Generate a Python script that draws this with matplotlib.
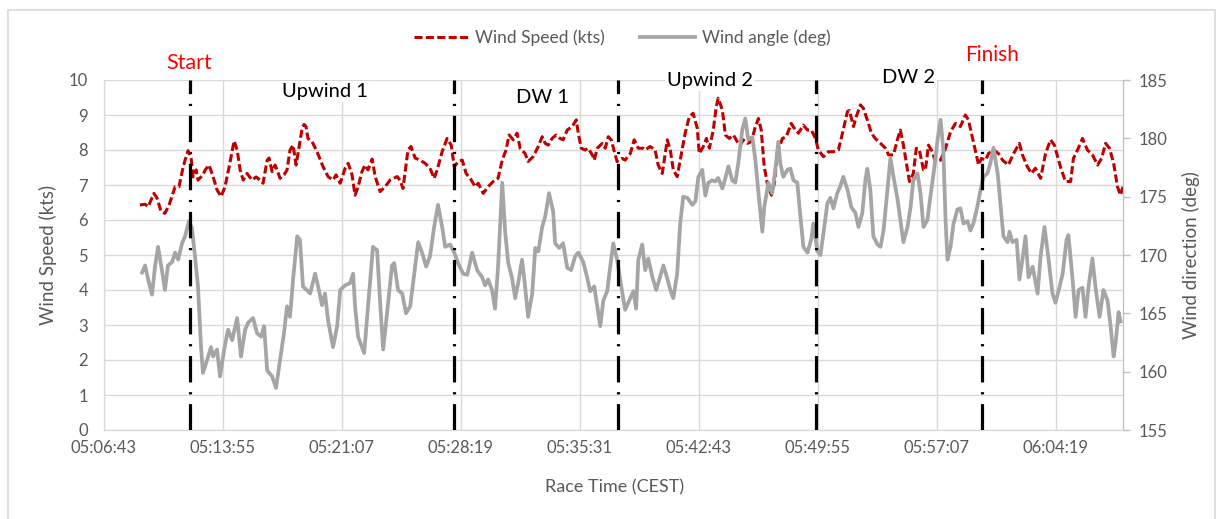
import matplotlib
matplotlib.use("Agg")
import matplotlib.pyplot as plt
from matplotlib.lines import Line2D
from matplotlib.patches import Rectangle
from matplotlib.ticker import FuncFormatter, MultipleLocator

# seconds after 05:06:43 (first tick of the time axis)
T0 = 5 * 3600 + 6 * 60 + 43

ws_t = [132, 151, 162, 183, 194, 209, 223, 238, 260, 274, 289, 296, 307, 318, 325, 336, 343, 361, 369, 383,
        398, 412, 427, 441, 456, 474, 485, 496, 507, 521, 539, 554, 568, 579, 594, 601, 612, 623, 641, 655,
        666, 677, 688, 699, 706, 721, 728, 735, 742, 757, 775, 797, 815, 833, 844, 859, 877, 888, 902, 913,
        924, 938, 949, 960, 975, 986, 1004, 1022, 1040, 1066, 1076, 1087, 1105, 1116, 1131, 1149, 1167, 1185, 1200, 1211,
        1229, 1247, 1262, 1273, 1287, 1302, 1316, 1331, 1349, 1360, 1378, 1396, 1414, 1432, 1447, 1461, 1472, 1487, 1501, 1512,
        1530, 1541, 1559, 1578, 1592, 1603, 1614, 1628, 1643, 1657, 1668, 1683, 1701, 1716, 1723, 1734, 1748, 1759, 1774, 1781,
        1792, 1810, 1821, 1832, 1843, 1854, 1864, 1883, 1893, 1912, 1926, 1941, 1959, 1966, 1984, 2002, 2013, 2028, 2046, 2057,
        2068, 2082, 2093, 2111, 2126, 2140, 2155, 2162, 2177, 2188, 2199, 2213, 2224, 2231, 2246, 2257, 2271, 2286, 2300, 2311,
        2322, 2337, 2351, 2366, 2377, 2387, 2398, 2409, 2424, 2435, 2446, 2464, 2478, 2496, 2507, 2522, 2540, 2555, 2569, 2584,
        2594, 2613, 2631, 2649, 2667, 2682, 2700, 2707, 2722, 2732, 2747, 2758, 2772, 2787, 2801, 2820, 2838, 2849, 2867, 2881,
        2892, 2903, 2918, 2925, 2939, 2950, 2961, 2976, 2983, 2994, 3008, 3019, 3038, 3056, 3074, 3092, 3110, 3128, 3139, 3150,
        3161, 3176, 3186, 3201, 3212, 3230, 3248, 3263, 3284, 3303, 3324, 3335, 3353, 3368, 3382, 3401, 3419, 3437, 3451, 3473,
        3491, 3510, 3520, 3535, 3553, 3571, 3589, 3608, 3622, 3637, 3651, 3666, 3680, 3691, 3700]
ws_kts = [6.43, 6.45, 6.38, 6.76, 6.63, 6.24, 6.19, 6.43, 6.95, 6.95, 7.51, 7.71, 7.98, 7.77, 7.23, 7.43, 7.14, 7.29, 7.43, 7.57,
          7.23, 6.86, 6.67, 6.95, 7.52, 8.26, 8.0, 7.43, 7.14, 7.33, 7.14, 7.23, 7.14, 7.05, 7.71, 7.77, 7.38, 7.57, 7.19, 7.29,
          7.43, 8.0, 8.14, 7.57, 7.9, 8.62, 8.73, 8.67, 8.33, 8.24, 7.95, 7.52, 7.24, 7.14, 7.29, 7.05, 7.48, 7.62, 7.29, 6.71,
          6.95, 7.38, 7.57, 7.43, 7.74, 7.24, 6.81, 6.95, 7.14, 7.24, 7.14, 6.9, 8.0, 8.1, 7.77, 7.71, 7.62, 7.48, 7.19, 7.43,
          7.95, 8.33, 8.14, 7.52, 7.67, 7.71, 7.33, 7.19, 6.95, 7.05, 6.76, 6.95, 7.1, 7.19, 7.71, 8.0, 8.43, 8.29, 8.48, 8.05,
          7.9, 7.67, 7.81, 8.1, 8.38, 8.19, 8.14, 8.33, 8.43, 8.33, 8.29, 8.57, 8.67, 8.86, 8.48, 8.05, 8.0, 8.05, 7.86, 7.71,
          8.05, 8.19, 8.05, 8.38, 8.29, 7.95, 7.67, 7.76, 7.71, 7.9, 8.29, 8.05, 8.05, 8.0, 8.1, 8.0, 7.57, 7.33, 8.29, 8.0,
          7.43, 7.24, 7.71, 8.48, 8.95, 9.05, 8.62, 7.9, 8.1, 8.33, 8.05, 8.57, 9.24, 9.48, 9.14, 8.43, 8.33, 8.43, 8.24, 8.14,
          8.29, 8.19, 8.24, 8.67, 8.9, 8.57, 7.52, 7.05, 6.71, 7.05, 7.95, 8.33, 8.38, 8.76, 8.62, 8.48, 8.71, 8.57, 8.57, 8.33,
          8.0, 7.81, 7.95, 7.95, 8.0, 8.48, 9.1, 9.13, 8.67, 8.95, 9.29, 9.19, 8.86, 8.48, 8.33, 8.19, 8.05, 7.86, 7.86, 8.29,
          8.57, 8.14, 7.43, 7.1, 7.33, 8.05, 8.0, 7.43, 7.43, 8.14, 7.95, 7.67, 7.71, 8.05, 8.52, 8.76, 8.67, 9.0, 8.86, 8.48,
          8.1, 7.57, 7.76, 7.71, 7.9, 8.0, 7.9, 7.71, 7.57, 7.9, 8.19, 7.86, 7.52, 7.33, 7.48, 7.19, 7.9, 8.29, 8.14, 7.52,
          7.1, 7.1, 7.76, 8.0, 8.33, 8.0, 7.86, 7.57, 7.76, 8.19, 8.05, 7.62, 6.95, 6.71, 6.95]

wa_t = [140, 151, 162, 176, 187, 198, 212, 223, 234, 249, 260, 271, 285, 296, 310, 321, 332, 343, 354, 361,
        376, 390, 398, 412, 423, 438, 452, 467, 485, 499, 514, 525, 543, 557, 572, 583, 594, 612, 626, 641,
        655, 666, 677, 688, 703, 713, 724, 742, 750, 768, 779, 793, 804, 815, 833, 848, 859, 877, 895, 906,
        913, 924, 946, 960, 978, 993, 1004, 1015, 1029, 1047, 1055, 1069, 1084, 1098, 1113, 1131, 1142, 1156, 1171, 1185,
        1200, 1214, 1229, 1240, 1258, 1273, 1287, 1305, 1320, 1338, 1356, 1374, 1385, 1396, 1410, 1421, 1432, 1447, 1458, 1469,
        1483, 1494, 1505, 1519, 1530, 1541, 1556, 1567, 1578, 1592, 1603, 1617, 1632, 1639, 1654, 1668, 1683, 1697, 1712, 1723,
        1741, 1755, 1766, 1781, 1792, 1803, 1814, 1828, 1839, 1850, 1864, 1875, 1893, 1908, 1923, 1933, 1941, 1955, 1966, 1977,
        1992, 2006, 2017, 2032, 2046, 2057, 2068, 2082, 2093, 2104, 2119, 2137, 2148, 2159, 2173, 2184, 2195, 2209, 2220, 2231,
        2246, 2257, 2268, 2282, 2293, 2304, 2318, 2329, 2340, 2355, 2366, 2377, 2391, 2398, 2413, 2427, 2438, 2449, 2456, 2467,
        2482, 2493, 2504, 2518, 2526, 2540, 2555, 2569, 2576, 2591, 2602, 2613, 2627, 2638, 2649, 2663, 2674, 2685, 2700, 2714,
        2729, 2740, 2754, 2765, 2772, 2783, 2794, 2809, 2820, 2831, 2845, 2856, 2867, 2881, 2892, 2903, 2918, 2929, 2939, 2954,
        2965, 2976, 2990, 3001, 3016, 3027, 3038, 3048, 3056, 3063, 3074, 3085, 3099, 3110, 3121, 3136, 3146, 3157, 3172, 3183,
        3194, 3208, 3219, 3230, 3245, 3255, 3266, 3281, 3288, 3299, 3314, 3324, 3335, 3346, 3357, 3372, 3390, 3401, 3415, 3430,
        3444, 3455, 3470, 3481, 3495, 3502, 3517, 3528, 3539, 3553, 3564, 3575, 3589, 3600, 3615, 3629, 3644, 3655, 3666, 3673,
        3684, 3691]
wa_deg = [168.5, 169.1, 167.9, 166.6, 169.0, 170.7, 168.7, 167.0, 169.1, 169.4, 170.2, 169.6, 171.0, 171.6, 172.9, 172.3, 169.9, 167.3, 162.1, 159.9,
          161.0, 162.1, 161.3, 161.9, 159.6, 161.9, 163.6, 162.7, 164.6, 161.3, 163.6, 164.2, 164.6, 163.3, 163.0, 163.9, 160.1, 159.6, 158.6, 161.0,
          163.3, 165.6, 164.7, 167.9, 171.6, 171.3, 167.3, 166.9, 166.7, 168.4, 167.3, 165.7, 166.7, 164.4, 162.1, 163.9, 167.0, 167.4, 167.6, 168.4,
          165.6, 163.0, 161.6, 165.6, 170.7, 170.4, 165.9, 161.9, 165.0, 169.1, 169.3, 167.0, 166.7, 165.0, 165.6, 169.0, 171.1, 170.2, 169.0, 169.9,
          172.4, 174.3, 172.4, 170.7, 170.9, 170.2, 169.3, 168.4, 168.3, 170.2, 168.7, 168.1, 167.4, 167.9, 167.0, 165.4, 169.0, 176.2, 171.9, 169.3,
          168.0, 166.3, 167.6, 169.6, 167.3, 164.7, 166.7, 170.6, 170.3, 172.4, 173.3, 175.3, 173.7, 171.0, 170.6, 171.0, 168.9, 168.7, 169.9, 170.2,
          169.4, 168.1, 166.9, 167.3, 165.6, 163.9, 166.1, 166.9, 169.0, 171.0, 169.6, 167.9, 165.3, 166.1, 166.9, 165.4, 169.6, 170.9, 168.7, 169.7,
          168.1, 167.0, 167.9, 169.1, 168.0, 167.0, 166.3, 168.4, 172.7, 175.0, 174.9, 174.3, 174.6, 176.7, 177.3, 175.1, 176.2, 176.4, 176.3, 176.6,
          175.7, 176.6, 177.6, 176.4, 176.2, 177.9, 180.7, 181.7, 179.9, 180.1, 178.1, 175.3, 172.0, 174.1, 176.2, 175.3, 177.3, 179.7, 177.9, 176.7,
          177.3, 177.4, 176.4, 176.2, 174.1, 170.7, 170.2, 171.4, 172.7, 170.3, 170.0, 171.9, 174.4, 174.9, 174.0, 175.3, 175.9, 176.7, 175.6, 174.1,
          173.6, 172.4, 173.6, 176.4, 177.4, 175.6, 171.6, 170.9, 170.7, 172.1, 175.6, 178.3, 176.7, 174.9, 173.0, 171.1, 172.4, 174.1, 176.4, 177.0,
          175.3, 172.4, 173.0, 175.0, 177.6, 179.9, 181.6, 179.0, 173.0, 169.6, 170.7, 172.7, 173.9, 174.0, 172.7, 172.9, 172.1, 172.7, 174.2, 175.6,
          176.7, 177.0, 177.9, 179.2, 177.0, 174.4, 171.6, 171.1, 172.0, 171.1, 171.3, 167.9, 169.6, 171.6, 168.1, 169.0, 166.7, 169.9, 172.4, 169.6,
          166.7, 165.9, 167.3, 168.4, 171.3, 171.7, 167.9, 164.7, 167.0, 167.2, 164.7, 167.3, 169.7, 167.3, 164.7, 167.0, 166.1, 163.9, 161.3, 162.4,
          165.1, 164.3]

# race marks (vertical dash-dot lines) and leg labels
mark_t = [315, 1272, 1869, 2587, 3187]
leg_names = ["Upwind 1", "DW 1", "Upwind 2", "DW 2"]
leg_t = [804, 1592, 2202, 2921]
leg_y = [9.66, 9.51, 10.0, 10.06]

GREY_TXT = "#595959"
GRID = "#D9D9D9"
RED = "#C00000"
ANGLE = "#A5A5A5"

plt.rcParams["font.family"] = ["Lato", "DejaVu Sans"]
plt.rcParams["lines.scale_dashes"] = False

fig = plt.figure(figsize=(12.23, 5.19), dpi=100)
ax = fig.add_axes([103.5 / 1223, 1 - 430 / 519, (1123 - 103.5) / 1223, 350 / 519])
ax2 = ax.twinx()

ax.plot(ws_t, ws_kts, color=RED, lw=2.2, dashes=(5.8, 2.4), zorder=3)
ax2.plot(wa_t, wa_deg, color=ANGLE, lw=2.7, zorder=3)

for t in mark_t:
    ax2.axvline(t, color="black", lw=2.3, dashes=(19, 7, 1.6, 7), zorder=5)

ax.set_xlim(0, 3700)
ax.set_ylim(0, 10)
ax2.set_ylim(155, 185)
ax.xaxis.set_major_locator(MultipleLocator(432))
ax.yaxis.set_major_locator(MultipleLocator(1))
ax2.yaxis.set_major_locator(MultipleLocator(5))


def hms(x, pos):
    s = int(round(x)) + T0
    return "%02d:%02d:%02d" % (s // 3600, (s // 60) % 60, s % 60)


ax.xaxis.set_major_formatter(FuncFormatter(hms))
ax.grid(True, color=GRID, lw=1.0, zorder=0)
ax.set_axisbelow(True)

for a in (ax, ax2):
    a.spines["top"].set_visible(False)
    a.spines["left"].set_color(GRID)
    a.spines["bottom"].set_color(GRID)
    a.spines["right"].set_color("#BFBFBF")
ax.tick_params(axis="x", length=0, pad=7, labelsize=12, labelcolor=GREY_TXT)
ax.tick_params(axis="y", length=0, pad=11, labelsize=12, labelcolor=GREY_TXT)
ax2.tick_params(axis="y", length=5, width=1, color="#BFBFBF", pad=6, labelsize=12, labelcolor=GREY_TXT)

for name, t, y in zip(leg_names, leg_t, leg_y):
    ax2.text(t, 155 + 3 * y, name, ha="center", va="center", fontsize=14.5, color="black", zorder=6,
             bbox=dict(facecolor="white", edgecolor="none", pad=1.5))
ax2.text(310, 155 + 3 * 10.49, "Start", ha="center", va="center", fontsize=15.5, color="#FF0000", clip_on=False)
ax2.text(3225, 155 + 3 * 10.71, "Finish", ha="center", va="center", fontsize=15, color="#FF0000", clip_on=False)

fig.text(48 / 1223, 1 - 255 / 519, "Wind Speed (kts)", rotation=90, ha="center", va="center",
         fontsize=13.5, color=GREY_TXT)
fig.text(1191 / 1223, 1 - 255 / 519, "Wind direction (deg)", rotation=90, ha="center", va="center",
         fontsize=13.5, color=GREY_TXT)
fig.text(615 / 1223, 1 - 487 / 519, "Race Time (CEST)", ha="center", va="center", fontsize=13, color=GREY_TXT)

handles = [Line2D([], [], color=RED, lw=2.2, dashes=(5.8, 2.4)),
           Line2D([], [], color=ANGLE, lw=2.7)]
fig.legend(handles, ["Wind Speed (kts)", "Wind angle (deg)"], loc="center",
           bbox_to_anchor=(622 / 1223, 1 - 38 / 519), ncol=2, frameon=False, fontsize=12.5,
           labelcolor=GREY_TXT, handlelength=3.2, handletextpad=0.35, columnspacing=2.0)

fig.add_artist(Rectangle((8 / 1223, -0.02), 1207 / 1223, 0.02 + 1 - 10 / 519, transform=fig.transFigure,
                         fill=False, edgecolor=GRID, lw=1.2))

fig.savefig("out.png", dpi=100, facecolor="white")
